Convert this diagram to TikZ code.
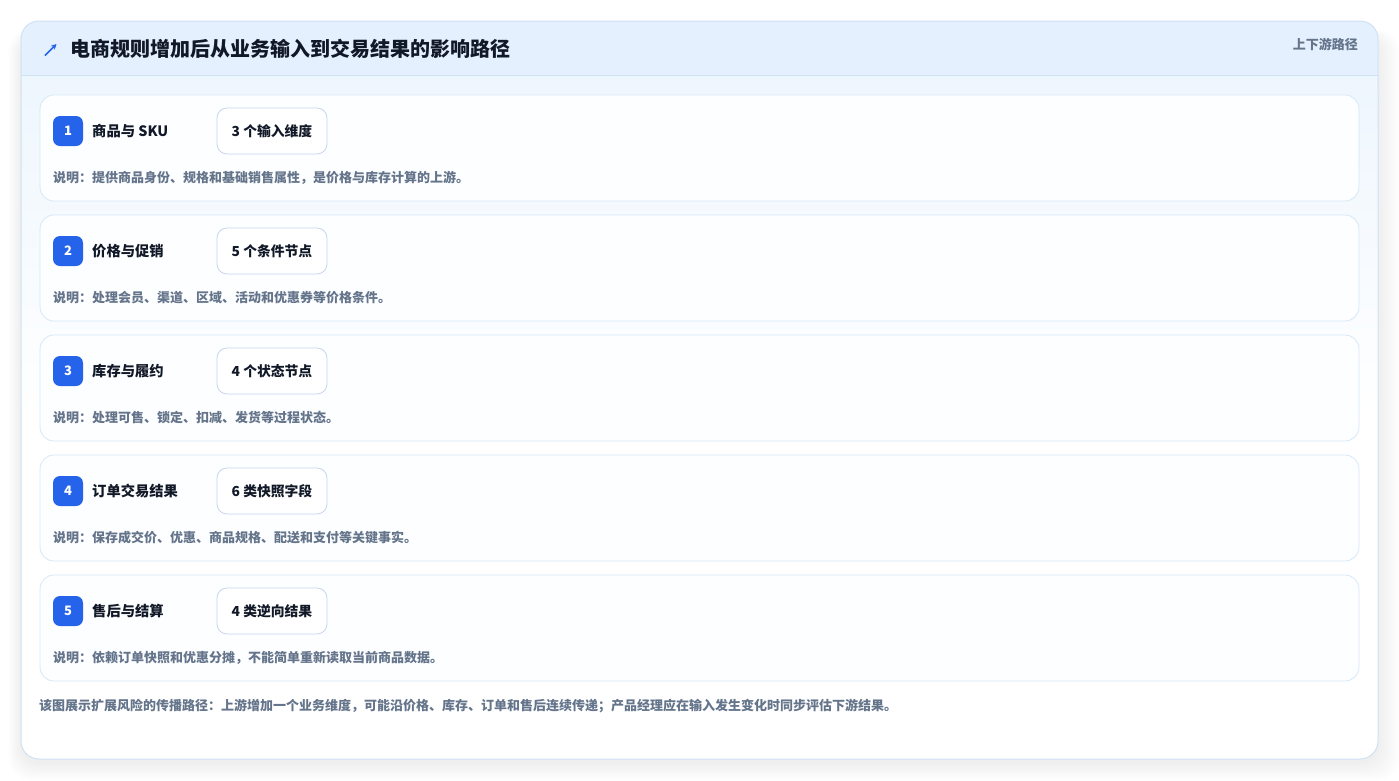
\documentclass[tikz,border=0pt]{standalone}
\usepackage{fontspec}
\setmainfont{Noto Sans CJK SC}
\usetikzlibrary{arrows.meta}
\definecolor{pagebg}{HTML}{FFFFFF}
\definecolor{cardborder}{HTML}{CFE2F3}
\definecolor{headbg}{HTML}{E4F0FD}
\definecolor{bodytop}{HTML}{EEF6FE}
\definecolor{rowbg}{HTML}{FDFEFF}
\definecolor{rowborder}{HTML}{D8E8F6}
\definecolor{badgeblue}{HTML}{2563EB}
\definecolor{darktext}{HTML}{111827}
\definecolor{graytext}{HTML}{64748B}
\definecolor{pillborder}{HTML}{C5D6EC}
\tikzset{
  rowcard/.style={draw=rowborder, line width=0.8pt, fill=rowbg, rounded corners=14pt},
  badge/.style={fill=badgeblue, rounded corners=7pt, minimum width=30pt, minimum height=30pt, inner sep=0pt, text=white, font=\bfseries\fontsize{13}{13}\selectfont},
  rowtitle/.style={anchor=west, inner sep=0pt, text=darktext, font=\bfseries\fontsize{14.3}{15}\selectfont},
  pill/.style={draw=pillborder, line width=0.8pt, fill=white, rounded corners=10pt, minimum width=110pt, minimum height=46pt, inner sep=0pt, text=darktext, font=\bfseries\fontsize{13.8}{14}\selectfont},
  desc/.style={anchor=west, inner sep=0pt, text=graytext, font=\bfseries\fontsize{13}{13}\selectfont},
}
\begin{document}
\begin{tikzpicture}[x=1pt,y=-1pt]
\useasboundingbox (0,0) rectangle (1399,780);
\fill[pagebg] (0,0) rectangle (1399,780);
% shadow
\foreach \i in {1,...,16}{
  \fill[black, opacity=0.004, rounded corners=22pt] (21-\i*0.8,21+14-\i*0.3) rectangle (1378+\i*1.4,759+4+\i*1.1);
}
% card
\fill[white, rounded corners=18pt] (21,21) rectangle (1378,759);
\begin{scope}
\clip[rounded corners=18pt] (21,21) rectangle (1378,759);
\shade[top color=bodytop, bottom color=white] (21,75) rectangle (1378,420);
\fill[headbg] (21,21) rectangle (1378,75);
\draw[cardborder, line width=0.8pt] (21,75) -- (1378,75);
\end{scope}
\draw[cardborder, line width=1pt, rounded corners=18pt] (21,21) rectangle (1378,759);
% header
\coordinate (arrA) at (45,55.5);
\coordinate (arrB) at (56.5,44);
\draw[badgeblue, line width=1.5pt, -{Stealth[length=5.5pt,width=5.5pt]}] (arrA) -- (arrB);
\node[anchor=west, inner sep=0pt, text=darktext, font=\bfseries\fontsize{20}{21}\selectfont] (title) at (70,49) {电商规则增加后从业务输入到交易结果的影响路径};
\node[anchor=east, inner sep=0pt, text=graytext, font=\bfseries\fontsize{13}{13}\selectfont] (tag) at (1358,44) {上下游路径};
% rows
\foreach \n/\t/\p/\d [count=\k from 0] in {
 1/商品与 SKU/3 个输入维度/说明：提供商品身份、规格和基础销售属性，是价格与库存计算的上游。,
 2/价格与促销/5 个条件节点/说明：处理会员、渠道、区域、活动和优惠券等价格条件。,
 3/库存与履约/4 个状态节点/说明：处理可售、锁定、扣减、发货等过程状态。,
 4/订单交易结果/6 类快照字段/说明：保存成交价、优惠、商品规格、配送和支付等关键事实。,
 5/售后与结算/4 类逆向结果/说明：依赖订单快照和优惠分摊，不能简单重新读取当前商品数据。}{
  \pgfmathsetmacro{\yy}{95+120*\k}
  \draw[rowcard] (40,\yy) rectangle (1359,\yy+106);
  \node[badge] (b\n) at (68,\yy+36) {\n};
  \node[rowtitle] (t\n) at (92,\yy+36) {\t};
  \node[pill] (p\n) at (272,\yy+36) {\p};
  \node[desc] (d\n) at (53,\yy+83) {\d};
}
\node[anchor=west, inner sep=0pt, text=graytext, font=\bfseries\fontsize{13}{13}\selectfont] (foot) at (39,706) {该图展示扩展风险的传播路径：上游增加一个业务维度，可能沿价格、库存、订单和售后连续传递；产品经理应在输入发生变化时同步评估下游结果。};
\end{tikzpicture}
\end{document}
